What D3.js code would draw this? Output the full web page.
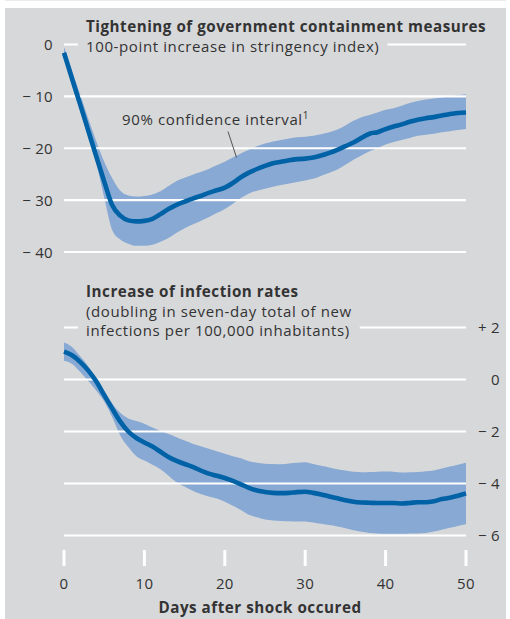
<!DOCTYPE html>
<html><head><meta charset="utf-8">
<script src="https://cdn.jsdelivr.net/npm/d3@7"></script>
<style>
html,body{margin:0;padding:0;background:#fff;}
svg{display:block;font-family:"Open Sans",sans-serif;}
</style></head>
<body><svg id="c" width="510" height="619"></svg>
<script>
// ---------- data ----------
const days = d3.range(0, 51);
const xTicks = [0, 10, 20, 30, 40, 50];

const topTicks = [0, -10, -20, -30, -40];
const topTickLabels = ["0", "\u2212 10", "\u2212 20", "\u2212 30", "\u2212 40"];
const stringency = [-1.6,-6.6,-11.5,-16.5,-21.5,-26.4,-31.0,-33.0,-33.9,-34.1,-34.0,
  -33.6,-32.7,-31.7,-30.9,-30.3,-29.7,-29.2,-28.6,-28.1,-27.6,
  -26.7,-25.6,-24.7,-24.0,-23.4,-22.9,-22.6,-22.3,-22.1,-22.0,
  -21.8,-21.4,-20.9,-20.3,-19.6,-18.9,-18.0,-17.2,-16.9,-16.3,
  -15.8,-15.4,-14.9,-14.5,-14.2,-14.0,-13.7,-13.4,-13.2,-13.1];
const stringencyHi = [-0.5,-5.0,-9.6,-14.2,-18.6,-22.6,-25.8,-28.2,-29.1,-29.3,-29.2,
  -28.9,-28.3,-27.3,-26.3,-25.7,-25.1,-24.6,-24.0,-23.3,-22.6,
  -21.8,-21.0,-20.3,-19.6,-19.1,-18.7,-18.4,-18.1,-17.9,-17.8,
  -17.6,-17.3,-16.9,-16.4,-15.6,-14.7,-14.0,-13.6,-13.1,-12.6,
  -12.3,-11.8,-11.3,-10.9,-10.6,-10.4,-10.2,-10.0,-9.8,-9.6];
const stringencyLo = [-2.6,-7.8,-12.8,-17.8,-22.8,-29.5,-35.8,-37.6,-38.4,-38.8,-38.8,
  -38.6,-38.0,-37.3,-36.3,-35.4,-34.7,-34.0,-33.3,-32.5,-31.7,
  -30.7,-29.6,-28.7,-28.2,-27.8,-27.4,-27.1,-26.8,-26.5,-26.2,
  -25.9,-25.3,-24.7,-24.1,-23.2,-22.2,-21.4,-20.6,-20.0,-19.3,
  -18.8,-18.4,-18.0,-17.6,-17.4,-17.2,-16.9,-16.7,-16.5,-16.3];

const botTicks = [2, 0, -2, -4, -6];
const botTickLabels = ["+ 2", "0", "\u2212 2", "\u2212 4", "\u2212 6"];
const infection = [1.07,0.93,0.68,0.35,-0.07,-0.6,-1.12,-1.62,-2.0,-2.25,-2.42,
  -2.58,-2.78,-2.98,-3.13,-3.25,-3.36,-3.5,-3.62,-3.7,-3.79,
  -3.9,-4.03,-4.17,-4.27,-4.33,-4.36,-4.37,-4.36,-4.33,-4.32,
  -4.36,-4.42,-4.5,-4.57,-4.64,-4.7,-4.73,-4.74,-4.75,-4.75,
  -4.75,-4.77,-4.75,-4.72,-4.72,-4.68,-4.6,-4.55,-4.47,-4.38];
const infectionHi = [1.42,1.25,0.9,0.52,0.05,-0.42,-0.92,-1.28,-1.5,-1.6,-1.7,
  -1.85,-1.98,-2.1,-2.22,-2.35,-2.47,-2.57,-2.66,-2.76,-2.86,
  -2.95,-3.03,-3.14,-3.2,-3.24,-3.25,-3.26,-3.23,-3.2,-3.18,
  -3.25,-3.32,-3.38,-3.45,-3.5,-3.55,-3.57,-3.56,-3.55,-3.54,
  -3.55,-3.58,-3.57,-3.56,-3.53,-3.5,-3.42,-3.35,-3.28,-3.2];
const infectionLo = [0.72,0.6,0.3,-0.05,-0.42,-0.85,-1.45,-2.15,-2.6,-2.95,-3.12,
  -3.28,-3.45,-3.7,-3.95,-4.12,-4.28,-4.4,-4.5,-4.58,-4.7,
  -4.86,-5.02,-5.2,-5.3,-5.38,-5.42,-5.44,-5.45,-5.46,-5.46,
  -5.5,-5.55,-5.6,-5.65,-5.72,-5.8,-5.86,-5.9,-5.92,-5.93,
  -5.93,-5.93,-5.92,-5.92,-5.9,-5.85,-5.78,-5.7,-5.63,-5.57];

const topTitle = "Tightening of government containment measures";
const topSub = "100-point increase in stringency index)";
const ciLabel = "90% confidence interval";
const botTitle = "Increase of infection rates";
const botSub = ["(doubling in seven-day total of new", "infections per 100,000 inhabitants)"];
const xTitle = "Days after shock occured";

// ---------- style ----------
const BG = "#d7d8da", BAND = "#87a9d3", LINE = "#0062a6", TXT = "#333333", GRID = "#ffffff";
const FS = 15, FSB = 15.2, LS = 0.52, LSR = 0.62;

const svg = d3.select("#c");
svg.append("rect").attr("x", 5).attr("y", 0).attr("width", 501).attr("height", 1).attr("fill", "#ececec");
svg.append("rect").attr("x", 5).attr("y", 8).attr("width", 501).attr("height", 611).attr("fill", BG);

const x = d3.scaleLinear().domain([0, 50]).range([64, 466]);
const yT = d3.scaleLinear().domain([0, -40]).range([44.5, 252]);
const yB = d3.scaleLinear().domain([2, -6]).range([327.5, 535.5]);

function band(g, y, lo, hi) {
  const area = d3.area().x((d, i) => x(days[i])).y0((d, i) => y(lo[i])).y1((d, i) => y(hi[i])).curve(d3.curveMonotoneX);
  g.append("path").attr("d", area(lo)).attr("fill", BAND);
}
function grid(g, y, ticks) {
  g.selectAll(null).data(ticks).join("line")
    .attr("x1", x(0)).attr("x2", x(50))
    .attr("y1", d => y(d)).attr("y2", d => y(d))
    .attr("stroke", GRID).attr("stroke-width", 2.2);
}
function line(g, y, vals) {
  const ln = d3.line().x((d, i) => x(days[i])).y(d => y(d)).curve(d3.curveMonotoneX);
  g.append("path").attr("d", ln(vals)).attr("fill", "none").attr("stroke", LINE)
    .attr("stroke-width", 4.6).attr("stroke-linejoin", "round").attr("stroke-linecap", "butt");
}
function txt(g, s, xx, yy, opt = {}) {
  return g.append("text").attr("x", xx).attr("y", yy)
    .attr("font-size", opt.bold ? FSB : FS).attr("font-weight", opt.bold ? 700 : 400)
    .attr("letter-spacing", opt.bold ? LS : LSR).attr("fill", TXT)
    .attr("text-anchor", opt.anchor || "start").text(s);
}

// ---------- top panel ----------
const gT = svg.append("g");
band(gT, yT, stringencyLo, stringencyHi);
grid(gT, yT, topTicks);
gT.selectAll(null).data(topTicks).join("text")
  .attr("x", 53).attr("y", d => yT(d) + 5.5).attr("text-anchor", "end")
  .attr("font-size", FS).attr("letter-spacing", 0.3).attr("fill", TXT)
  .text((d, i) => topTickLabels[i]);

txt(gT, topTitle, 86, 32, { bold: true });
const tSub = txt(gT, topSub, 86, 51.5);
{
  const b = tSub.node().getBBox();
  gT.insert("rect", "text").attr("x", b.x - 8).attr("y", yT(0) - 2).attr("width", b.width + 16).attr("height", 4).attr("fill", BG);
}
line(gT, yT, stringency);

const ci = txt(gT, ciLabel, 122, 125);
ci.append("tspan").attr("font-size", 10).attr("dy", -6).text("1");
gT.append("line").attr("x1", 228).attr("y1", 131.5).attr("x2", 236.5).attr("y2", 157.5)
  .attr("stroke", "#444").attr("stroke-width", 0.9);

// ---------- bottom panel ----------
const gB = svg.append("g");
band(gB, yB, infectionLo, infectionHi);
grid(gB, yB, botTicks);
gB.selectAll(null).data(botTicks).join("text")
  .attr("x", 500).attr("y", d => yB(d) + 5.5).attr("text-anchor", "end")
  .attr("font-size", FS).attr("letter-spacing", 0.3).attr("fill", TXT)
  .text((d, i) => botTickLabels[i]);

txt(gB, botTitle, 86, 297, { bold: true });
const bSub = gB.append("text").attr("font-size", FS).attr("letter-spacing", LSR).attr("fill", TXT);
botSub.forEach((s, i) => bSub.append("tspan").attr("x", 86).attr("y", 316.5 + i * 19).text(s));
{
  const b = bSub.node().getBBox();
  gB.insert("rect", "text").attr("x", b.x - 8).attr("y", yB(2) - 2).attr("width", b.width + 16).attr("height", 4).attr("fill", BG);
}
line(gB, yB, infection);

// x axis ticks
gB.selectAll(null).data(xTicks).join("line")
  .attr("x1", d => x(d)).attr("x2", d => x(d)).attr("y1", 550).attr("y2", 566)
  .attr("stroke", GRID).attr("stroke-width", 3);
gB.selectAll(null).data(xTicks).join("text")
  .attr("x", d => x(d)).attr("y", 588.5).attr("text-anchor", "middle")
  .attr("font-size", FS).attr("letter-spacing", 0.3).attr("fill", TXT).text(d => d);
txt(gB, xTitle, 260, 612.5, { bold: true, anchor: "middle" });
</script>
</body></html>
